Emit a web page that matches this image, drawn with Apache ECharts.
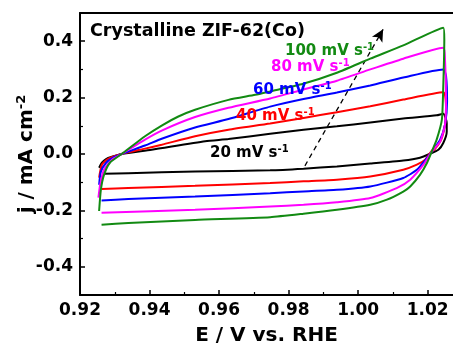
<!DOCTYPE html>
<html>
<head>
<meta charset="utf-8">
<script src="https://cdn.jsdelivr.net/npm/echarts@6/dist/echarts.min.js"></script>
<style>html,body{margin:0;padding:0;background:#fff;}#c{width:453px;height:344px;}</style>
</head>
<body>
<div id="c"></div>
<script>
// Scan rates and labels
const scanRates = ['20', '40', '60', '80', '100'];
const seriesColors = ['#000000', '#ff0000', '#0000ff', '#ff00ff', '#128a12'];

// CV loops: [E (V vs RHE), j (mA cm^-2)], anodic then cathodic branch
const cv20 = [[0.9255,-0.049],[0.9263,-0.031],[0.9275,-0.018],[0.9292,-0.010],[0.9320,0.000],[0.9406,0.015],[0.9560,0.045],[0.9627,0.053],[0.9747,0.072],[0.9843,0.086],[0.9939,0.098],[1.0035,0.112],[1.0130,0.126],[1.0226,0.137],[1.0245,0.143],
  [1.0255,0.110],[1.0255,0.079],[1.0245,0.039],[1.0231,0.015],[1.0207,0.001],[1.0178,-0.013],[1.0130,-0.023],[1.0035,-0.034],[0.9939,-0.044],[0.9843,-0.052],[0.9747,-0.058],[0.9531,-0.062],[0.9339,-0.068],[0.9269,-0.070]];
const cv40 = [[0.9255,-0.084],[0.9263,-0.038],[0.9281,-0.017],[0.9320,0.000],[0.9387,0.019],[0.9435,0.033],[0.9531,0.063],[0.9627,0.086],[0.9747,0.108],[0.9843,0.128],[0.9939,0.148],[1.0035,0.169],[1.0130,0.193],[1.0245,0.219],
  [1.0253,0.159],[1.0250,0.104],[1.0239,0.051],[1.0219,0.015],[1.0212,0.012],[1.0193,-0.020],[1.0169,-0.038],[1.0130,-0.056],[1.0035,-0.080],[0.9939,-0.091],[0.9843,-0.097],[0.9747,-0.103],[0.9531,-0.113],[0.9339,-0.121],[0.9262,-0.124]];
const cv60 = [[0.9255,-0.109],[0.9260,-0.063],[0.9275,-0.031],[0.9295,-0.013],[0.9320,0.000],[0.9387,0.030],[0.9435,0.054],[0.9531,0.094],[0.9627,0.124],[0.9747,0.168],[0.9843,0.195],[0.9939,0.218],[1.0035,0.243],[1.0130,0.271],[1.0245,0.300],
  [1.0253,0.276],[1.0256,0.187],[1.0250,0.104],[1.0236,0.051],[1.0216,0.015],[1.0198,-0.014],[1.0169,-0.056],[1.0130,-0.085],[1.0035,-0.115],[0.9939,-0.127],[0.9843,-0.133],[0.9747,-0.139],[0.9531,-0.151],[0.9339,-0.160],[0.9262,-0.165]];
const cv80 = [[0.9253,-0.155],[0.9258,-0.109],[0.9269,-0.056],[0.9292,-0.020],[0.9320,0.000],[0.9387,0.051],[0.9435,0.083],[0.9531,0.131],[0.9627,0.164],[0.9747,0.197],[0.9843,0.229],[0.9939,0.260],[1.0035,0.300],[1.0130,0.338],[1.0245,0.377],
  [1.0250,0.335],[1.0253,0.193],[1.0250,0.104],[1.0236,0.044],[1.0212,0.009],[1.0188,-0.038],[1.0150,-0.091],[1.0111,-0.121],[1.0035,-0.156],[0.9939,-0.171],[0.9843,-0.180],[0.9747,-0.186],[0.9531,-0.198],[0.9262,-0.208]];
const cv100 = [[0.9255,-0.202],[0.9260,-0.127],[0.9269,-0.074],[0.9286,-0.031],[0.9320,0.000],[0.9387,0.063],[0.9435,0.101],[0.9483,0.133],[0.9531,0.157],[0.9627,0.192],[0.9704,0.210],[0.9747,0.222],[0.9842,0.249],[0.9939,0.288],[1.0035,0.338],[1.0130,0.385],[1.0245,0.448],
  [1.0248,0.406],[1.0245,0.240],[1.0241,0.122],[1.0226,0.051],[1.0212,0.009],[1.0198,-0.032],[1.0178,-0.074],[1.0150,-0.115],[1.0130,-0.133],[1.0083,-0.162],[1.0035,-0.180],[0.9939,-0.198],[0.9843,-0.212],[0.9747,-0.224],[0.9531,-0.234],[0.9339,-0.245],[0.9262,-0.251]];
const cvData = [cv20, cv40, cv60, cv80, cv100];

// Axes
const xMajorTicks = [0.92, 0.94, 0.96, 0.98, 1.00, 1.02];
const xMinorTicks = [0.93, 0.95, 0.97, 0.99, 1.01];
const yMajorTicks = [-0.4, -0.2, 0.0, 0.2, 0.4];
const yMinorTicks = [-0.3, -0.1, 0.1, 0.3];

// Trend arrow (start, end)
const arrowStart = [0.9847, -0.042];
const arrowEnd = [1.0072, 0.442];

const FONT = 'DejaVu Sans';
const chart = echarts.init(document.getElementById('c'), null, {renderer: 'canvas'});

const series = cvData.map((d, i) => ({
  type: 'line', xAxisIndex: 0, yAxisIndex: 0, data: d,
  showSymbol: false, symbol: 'none', smooth: 0.2, animation: false,
  lineStyle: {color: seriesColors[i], width: 2}, z: 2 + i
}));
series.push({
  type: 'line', data: [], xAxisIndex: 0, yAxisIndex: 0, animation: false,
  markLine: {
    silent: true, animation: false, symbol: ['none', 'arrow'], symbolSize: [9, 12],
    label: {show: false},
    lineStyle: {color: '#000', type: [5, 4], width: 1.3},
    data: [[{coord: arrowStart}, {coord: arrowEnd}]]
  }
});

const rateLabels = [
  {t: scanRates[0], x: 210, y: 153, c: seriesColors[0]},
  {t: scanRates[1], x: 236, y: 116, c: seriesColors[1]},
  {t: scanRates[2], x: 253, y: 90, c: seriesColors[2]},
  {t: scanRates[3], x: 271, y: 67, c: seriesColors[3]},
  {t: scanRates[4], x: 285, y: 51, c: seriesColors[4]}
];
const graphics = rateLabels.map(l => ({
  type: 'text', x: l.x, y: l.y, z: 100,
  style: {
    text: '{a|' + l.t + ' mV s}{s|-1}', fill: l.c, verticalAlign: 'middle',
    rich: {
      a: {fontFamily: FONT, fontWeight: 'bold', fontSize: 15, fill: l.c},
      s: {fontFamily: FONT, fontWeight: 'bold', fontSize: 10, fill: l.c, verticalAlign: 'top', padding: [0, 0, 8, 0]}
    }
  }
}));
graphics.push({
  type: 'text', x: 90, y: 31.5, z: 100,
  style: {text: 'Crystalline ZIF-62(Co)', fill: '#000', fontFamily: FONT, fontWeight: 'bold', fontSize: 17.5, verticalAlign: 'middle'}
});

const X_MIN = 0.92, X_MAX = 1.0273;

chart.setOption({
  animation: false,
  backgroundColor: '#fff',
  grid: {left: 80, right: 0, top: 13, bottom: 49, containLabel: false, outerBoundsMode: 'none'},
  xAxis: [
    {
      type: 'value', position: 'bottom', min: X_MIN, max: X_MAX,
      axisLine: {show: true, onZero: false, lineStyle: {color: '#000', width: 2}},
      axisTick: {show: true, inside: true, length: 5, customValues: xMajorTicks, lineStyle: {color: '#000', width: 1.5}},
      axisLabel: {customValues: xMajorTicks, formatter: v => v.toFixed(2), margin: 7, color: '#000', fontFamily: FONT, fontWeight: 'bold', fontSize: 17, hideOverlap: false},
      splitLine: {show: false},
      name: 'E / V vs. RHE', nameLocation: 'middle', nameGap: 31, nameMoveOverlap: false,
      nameTextStyle: {color: '#000', fontFamily: FONT, fontWeight: 'bold', fontSize: 20}
    },
    {
      type: 'value', position: 'bottom', min: X_MIN, max: X_MAX,
      axisLine: {show: false, onZero: false},
      axisTick: {show: true, inside: true, length: 3, customValues: xMinorTicks, lineStyle: {color: '#000', width: 1.2}},
      axisLabel: {show: false}, splitLine: {show: false}
    },
    {
      type: 'value', position: 'top', min: X_MIN, max: X_MAX,
      axisLine: {show: true, onZero: false, lineStyle: {color: '#000', width: 2}},
      axisTick: {show: false}, axisLabel: {show: false}, splitLine: {show: false}
    }
  ],
  yAxis: [
    {
      type: 'value', position: 'left', min: -0.5, max: 0.5,
      axisLine: {show: true, onZero: false, lineStyle: {color: '#000', width: 2}},
      axisTick: {show: true, inside: true, length: 5, customValues: yMajorTicks, lineStyle: {color: '#000', width: 1.5}},
      axisLabel: {customValues: yMajorTicks, formatter: v => v.toFixed(1), margin: 7, color: '#000', fontFamily: FONT, fontWeight: 'bold', fontSize: 17},
      splitLine: {show: false},
      name: '{a|j / mA cm}{s|-2}', nameLocation: 'middle', nameGap: 42, nameRotate: 90, nameMoveOverlap: false,
      nameTextStyle: {
        color: '#000',
        rich: {
          a: {fontFamily: FONT, fontWeight: 'bold', fontSize: 20, color: '#000'},
          s: {fontFamily: FONT, fontWeight: 'bold', fontSize: 13, color: '#000', verticalAlign: 'top', padding: [0, 0, 10, 0]}
        }
      }
    },
    {
      type: 'value', position: 'left', min: -0.5, max: 0.5,
      axisLine: {show: false, onZero: false},
      axisTick: {show: true, inside: true, length: 3, customValues: yMinorTicks, lineStyle: {color: '#000', width: 1.2}},
      axisLabel: {show: false}, splitLine: {show: false}
    }
  ],
  series: series,
  graphic: graphics
});
</script>
</body>
</html>
